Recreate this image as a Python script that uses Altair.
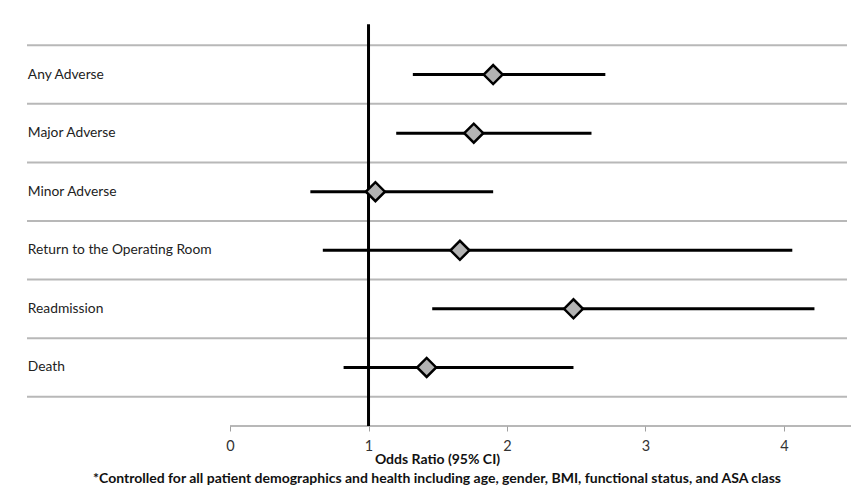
import altair as alt
import pandas as pd

labels = ["Any Adverse", "Major Adverse", "Minor Adverse",
          "Return to the Operating Room", "Readmission", "Death"]
odds = [1.90, 1.76, 1.05, 1.66, 2.48, 1.42]
lower = [1.32, 1.20, 0.58, 0.67, 1.46, 0.82]
upper = [2.71, 2.61, 1.90, 4.06, 4.22, 2.48]
x_ticks = [0, 1, 2, 3, 4]

FONT = "Lato"
n = len(labels)

df = pd.DataFrame({
    "label": labels,
    "odds": odds,
    "lower": lower,
    "upper": upper,
    "row": [i + 0.5 for i in range(n)],
    "lx": [-1.46] * n,
})
sep = pd.DataFrame({"b": list(range(n + 1))})
ref_df = pd.DataFrame({"v": [1.0], "y0": [-0.36], "y1": [n + 0.5]})
axis_df = pd.DataFrame({"a": [0.0], "b": [4.5], "y": [n + 0.5]})

xscale = alt.Scale(domain=[-1.466, 4.455], nice=False, zero=False)
yscale = alt.Scale(domain=[-0.5, n + 0.5], reverse=True, nice=False, zero=False)
xaxis = alt.Axis(values=x_ticks, title="Odds Ratio (95% CI)", grid=False, domain=False,
                 ticks=True, tickSize=5, tickColor="#a0a0a0", labelFont=FONT,
                 labelFontSize=14.5, labelColor="#333333", labelPadding=8,
                 titleFont=FONT, titleFontSize=14, titleFontWeight="bold",
                 titleColor="#111111", titlePadding=0)

separators = alt.Chart(sep).mark_rule(color="#b8b8b8", strokeWidth=2).encode(
    y=alt.Y("b:Q", scale=yscale, axis=None),
)

ref_line = alt.Chart(ref_df).mark_rule(color="black", strokeWidth=3).encode(
    x=alt.X("v:Q", scale=xscale, axis=xaxis),
    y=alt.Y("y0:Q", scale=yscale, axis=None),
    y2="y1:Q",
)

axis_line = alt.Chart(axis_df).mark_rule(color="#a0a0a0", strokeWidth=1.5).encode(
    x=alt.X("a:Q", scale=xscale, axis=xaxis),
    x2="b:Q",
    y=alt.Y("y:Q", scale=yscale, axis=None),
)

ci = alt.Chart(df).mark_rule(color="black", strokeWidth=3).encode(
    x=alt.X("lower:Q", scale=xscale, axis=xaxis),
    x2="upper:Q",
    y=alt.Y("row:Q", scale=yscale, axis=None),
)

pts = alt.Chart(df).mark_point(shape="diamond", filled=True, fill="#b3b3b3", stroke="black",
                               strokeWidth=2.5, size=360, opacity=1).encode(
    x=alt.X("odds:Q", scale=xscale, axis=xaxis),
    y=alt.Y("row:Q", scale=yscale, axis=None),
)

text = alt.Chart(df).mark_text(align="left", baseline="middle", font=FONT, fontSize=13.8,
                               color="#222222").encode(
    x=alt.X("lx:Q", scale=xscale, axis=xaxis),
    y=alt.Y("row:Q", scale=yscale, axis=None),
    text="label:N",
)

chart = alt.layer(separators, axis_line, ref_line, ci, pts, text).properties(
    width=820,
    height=410,
    padding={"left": 19, "top": 8, "right": 4, "bottom": 60},
    autosize=alt.AutoSizeParams(type="none"),
    title=alt.TitleParams(
        "*Controlled for all patient demographics and health including age, gender, BMI, functional status, and ASA class",
        orient="bottom", anchor="middle", font=FONT, fontSize=14, fontWeight="bold",
        color="#111111", offset=5),
).configure_view(stroke=None)

chart.save("out.html", embed_options={"renderer": "svg", "actions": False})
